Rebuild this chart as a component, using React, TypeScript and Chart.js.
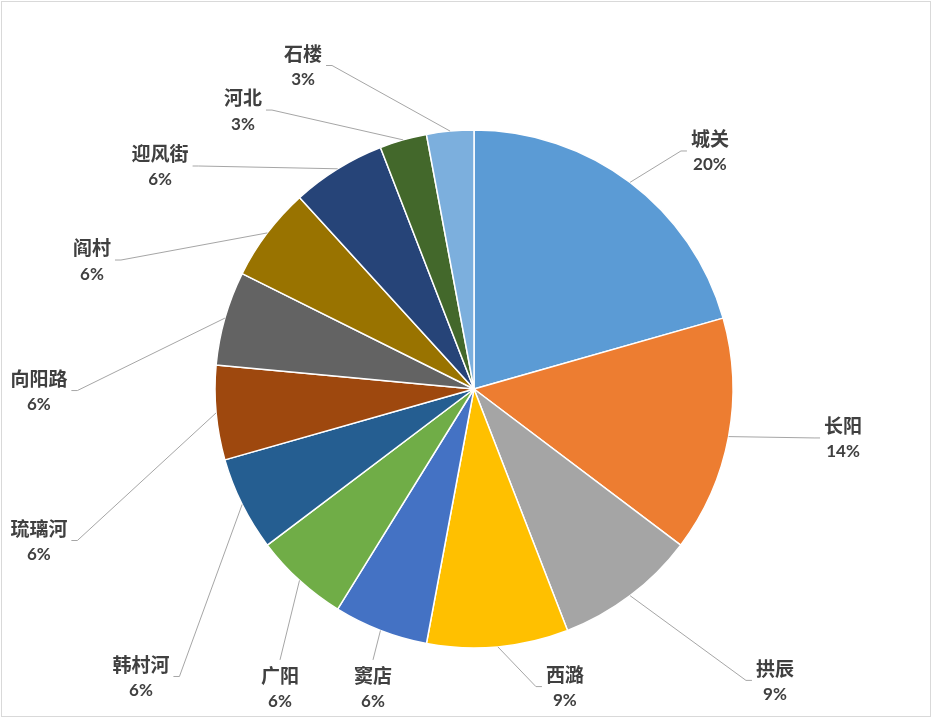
import React, { useEffect, useRef } from "react";
import { Chart, registerables } from "chart.js";

Chart.register(...registerables);

const categories = ["城关", "长阳", "拱辰", "西潞", "窦店", "广阳", "韩村河", "琉璃河", "向阳路", "阎村", "迎风街", "河北", "石楼"];
const values = [7, 5, 3, 3, 2, 2, 2, 2, 2, 2, 2, 1, 1];
const percentLabels = ["20%", "14%", "9%", "9%", "6%", "6%", "6%", "6%", "6%", "6%", "6%", "3%", "3%"];
const sliceColors = ["#5B9BD5", "#ED7D31", "#A5A5A5", "#FFC000", "#4472C4", "#70AD47", "#255E91", "#9E480E", "#636363", "#997300", "#264478", "#43682B", "#7CAFDD"];

// label block centres relative to pie centre, in units of radius; side = where the leader line attaches
const labelLayout: [number, number, string][] = [
  [0.911, -0.919, "L"],
  [1.425, 0.189, "L"],
  [1.162, 1.125, "L"],
  [0.351, 1.149, "L"],
  [-0.39, 1.154, "T"],
  [-0.749, 1.154, "T"],
  [-1.286, 1.11, "R"],
  [-1.68, 0.585, "R"],
  [-1.68, 0.006, "R"],
  [-1.475, -0.498, "R"],
  [-1.212, -0.861, "R"],
  [-0.892, -1.077, "R"],
  [-0.66, -1.249, "R"],
];

const NAME_FONT = 'bold 19px "Noto Sans CJK SC"';
const PCT_FONT = 'bold 17px Lato, "Noto Sans CJK SC"';
const TEXT_COLOR = "#404040";
const LINE_COLOR = "#A6A6A6";

const labelPlugin = {
  id: "outerLabels",
  beforeDraw(chart: any) {
    const ctx = chart.ctx;
    ctx.save();
    ctx.fillStyle = "#ffffff";
    ctx.fillRect(0, 0, chart.width, chart.height);
    ctx.strokeStyle = "#D9D9D9";
    ctx.lineWidth = 1;
    ctx.strokeRect(1.5, 1.5, chart.width - 3, chart.height - 3);
    ctx.restore();
  },
  afterDatasetsDraw(chart: any) {
    const ctx = chart.ctx;
    const meta = chart.getDatasetMeta(0);
    ctx.save();
    meta.data.forEach((arc: any, i: number) => {
      const { x, y, startAngle, endAngle, outerRadius } = arc.getProps(["x", "y", "startAngle", "endAngle", "outerRadius"], true);
      const mid = (startAngle + endAngle) / 2;
      const ax = x + Math.cos(mid) * outerRadius;
      const ay = y + Math.sin(mid) * outerRadius;
      const [rx, ry, side] = labelLayout[i];
      const lx = x + rx * outerRadius;
      const ly = y + ry * outerRadius;
      ctx.font = NAME_FONT;
      const wName = ctx.measureText(categories[i]).width;
      ctx.font = PCT_FONT;
      const wPct = ctx.measureText(percentLabels[i]).width;
      const w = Math.max(wName, wPct);
      const nameY = ly - 12;
      const pctY = ly + 14;

      ctx.strokeStyle = LINE_COLOR;
      ctx.lineWidth = 1;
      ctx.beginPath();
      ctx.moveTo(ax, ay);
      if (side === "L") {
        const ex = lx - w / 2 - 4;
        ctx.lineTo(ex - 6, ly);
        ctx.lineTo(ex, ly);
      } else if (side === "R") {
        const ex = lx + w / 2 + 4;
        ctx.lineTo(ex + 6, ly);
        ctx.lineTo(ex, ly);
      } else {
        ctx.lineTo(lx, nameY - 16);
      }
      ctx.stroke();

      ctx.fillStyle = TEXT_COLOR;
      ctx.textAlign = "center";
      ctx.textBaseline = "middle";
      ctx.font = NAME_FONT;
      ctx.fillText(categories[i], lx, nameY);
      ctx.font = PCT_FONT;
      ctx.fillText(percentLabels[i], lx, pctY);
    });
    ctx.restore();
  },
};

export default function App() {
  const ref = useRef<HTMLCanvasElement | null>(null);
  useEffect(() => {
    if (!ref.current) return;
    const chart = new Chart(ref.current, {
      type: "pie",
      data: {
        labels: categories,
        datasets: [
          {
            data: values,
            backgroundColor: sliceColors,
            borderColor: "#ffffff",
            borderWidth: 1.5,
            hoverOffset: 0,
          },
        ],
      },
      options: {
        responsive: false,
        animation: false,
        radius: 259,
        layout: { padding: { left: 215, right: 199, top: 130, bottom: 70 } },
        plugins: {
          legend: { display: false },
          tooltip: { enabled: false },
        },
      } as any,
      plugins: [labelPlugin],
    });
    return () => chart.destroy();
  }, []);
  return (
    <div style={{ position: "fixed", left: 0, top: 0, width: 932, height: 718, background: "#fff" }}>
      <canvas ref={ref} width={932} height={718} style={{ width: 932, height: 718, display: "block" }} />
    </div>
  );
}
